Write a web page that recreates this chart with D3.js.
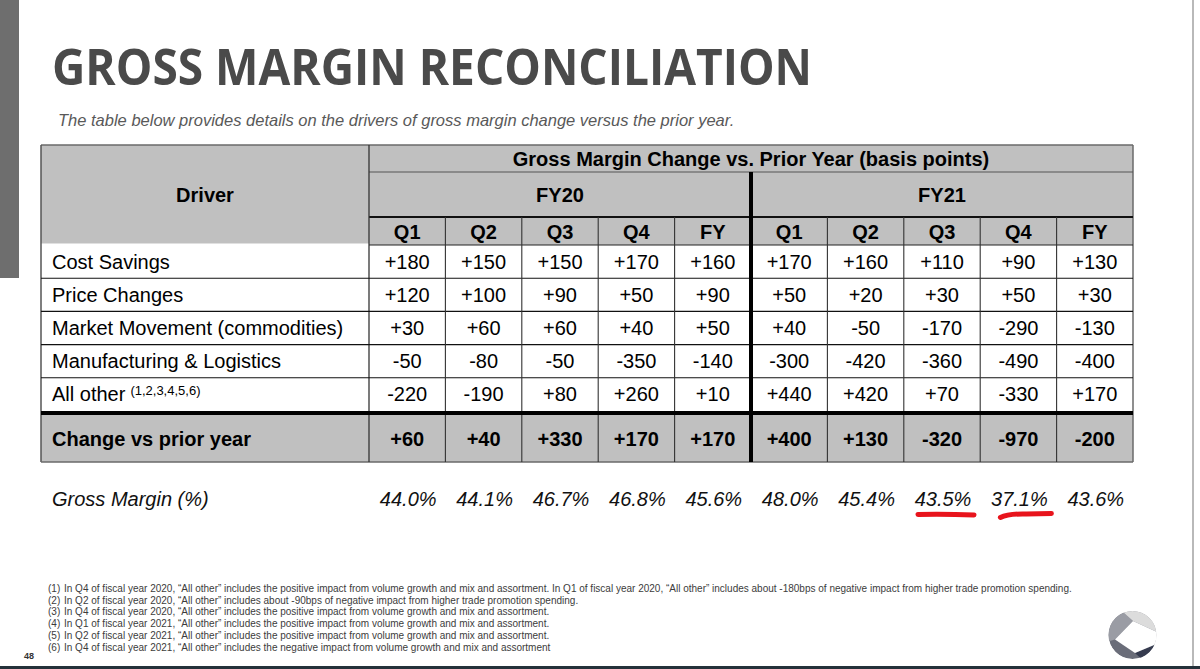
<!DOCTYPE html>
<html><head><meta charset="utf-8">
<script src="https://cdn.jsdelivr.net/npm/d3@7"></script>
<style>body{margin:0;background:#fff;} svg{display:block;}</style>
</head><body>
<svg id="c" width="1200" height="669"></svg>
<script>
// ---------- data ----------
const title = "GROSS MARGIN RECONCILIATION";
const subtitle = "The table below provides details on the drivers of gross margin change versus the prior year.";
const headerTop = "Gross Margin Change vs. Prior Year (basis points)";
const driverHeader = "Driver";
const years = ["FY20", "FY21"];
const periods = ["Q1", "Q2", "Q3", "Q4", "FY"];
const drivers = ["Cost Savings", "Price Changes", "Market Movement (commodities)", "Manufacturing & Logistics", "All other"];
const allOtherNote = "(1,2,3,4,5,6)";
const costSavings      = [180, 150, 150, 170, 160, 170, 160, 110, 90, 130];
const priceChanges     = [120, 100, 90, 50, 90, 50, 20, 30, 50, 30];
const marketMovement   = [30, 60, 60, 40, 50, 40, -50, -170, -290, -130];
const manufacturing    = [-50, -80, -50, -350, -140, -300, -420, -360, -490, -400];
const allOther         = [-220, -190, 80, 260, 10, 440, 420, 70, -330, 170];
const totalLabel = "Change vs prior year";
const changeVsPriorYear = [60, 40, 330, 170, 170, 400, 130, -320, -970, -200];
const gmLabel = "Gross Margin (%)";
const grossMargin = [44.0, 44.1, 46.7, 46.8, 45.6, 48.0, 45.4, 43.5, 37.1, 43.6];
const highlighted = ["FY21 Q3", "FY21 Q4"];
const footnotes = [
  "In Q4 of fiscal year 2020, \u201CAll other\u201D includes the positive impact from volume growth and mix and assortment. In Q1 of fiscal year 2020, \u201CAll other\u201D includes about -180bps of negative impact from higher trade promotion spending.",
  "In Q2 of fiscal year 2020, \u201CAll other\u201D includes about -90bps of negative impact from higher trade promotion spending.",
  "In Q4 of fiscal year 2020, \u201CAll other\u201D includes the positive impact from volume growth and mix and assortment.",
  "In Q1 of fiscal year 2021, \u201CAll other\u201D includes the positive impact from volume growth and mix and assortment.",
  "In Q2 of fiscal year 2021, \u201CAll other\u201D includes the positive impact from volume growth and mix and assortment.",
  "In Q4 of fiscal year 2021, \u201CAll other\u201D includes the negative impact from volume growth and mix and assortment"
];
const pageNumber = "48";

const rowValues = [costSavings, priceChanges, marketMovement, manufacturing, allOther];

// ---------- setup ----------
const svg = d3.select("#c");
const F = "'Liberation Sans', Arial, sans-serif";
const fmt = v => (v > 0 ? "+" : "") + v;
const fmtPct = d3.format(".1f");

const cols = years.flatMap(y => periods.map(p => y + " " + p));
const L = 41, R = 1133, D = 369;
const x = d3.scaleBand().domain(cols).range([D, R]);
const xYear = d3.scaleBand().domain(years).range([D, R]);
const yTop = 145, yH1 = 172, yH2 = 217, yH3 = 245;
const y = d3.scaleBand().domain(drivers).range([yH3, 411]);
const yThick = 413, yTotTop = 415, yTotBot = 462;

// slide frame
svg.append("rect").attr("x", 0).attr("y", 0).attr("width", 19).attr("height", 278).attr("fill", "#6e6e6e");
svg.append("line").attr("x1", 1193).attr("x2", 1193).attr("y1", 0).attr("y2", 669).attr("stroke", "#8a8a8a").attr("stroke-width", 1.2);
svg.append("line").attr("x1", 0).attr("x2", 1200).attr("y1", 667.5).attr("y2", 667.5).attr("stroke", "#24313a").attr("stroke-width", 3);

// title
svg.append("text").attr("x", 52).attr("y", 85).text(title)
  .attr("font-family", "'Open Sans', sans-serif").attr("font-weight", 700).attr("font-size", 51)
  .attr("fill", "#4a4a4a").attr("textLength", 760).attr("lengthAdjust", "spacingAndGlyphs");
svg.append("text").attr("x", 58).attr("y", 126).text(subtitle)
  .attr("font-family", F).attr("font-style", "italic").attr("font-size", 16.5).attr("fill", "#595959");

// ---------- table backgrounds ----------
svg.append("rect").attr("x", L).attr("y", yTop).attr("width", R - L).attr("height", yH3 - yTop).attr("fill", "#c0c0c0");
svg.append("rect").attr("x", L).attr("y", yH3 - 1.5).attr("width", D - L).attr("height", 2).attr("fill", "#fff");
svg.append("rect").attr("x", L).attr("y", yTotTop).attr("width", R - L).attr("height", yTotBot - yTotTop).attr("fill", "#c0c0c0");

const g = svg.append("g").attr("font-family", F).attr("fill", "#000");

// header text
g.append("text").attr("x", (D + R) / 2).attr("y", (yTop + yH1) / 2 + 7).attr("text-anchor", "middle")
  .attr("font-weight", 700).attr("font-size", 20).text(headerTop);
g.append("text").attr("x", (L + D) / 2).attr("y", 202).attr("text-anchor", "middle")
  .attr("font-weight", 700).attr("font-size", 20).text(driverHeader);
g.selectAll(".yr").data(years).join("text")
  .attr("x", d => xYear(d) + xYear.bandwidth() / 2).attr("y", (yH1 + yH2) / 2 + 7)
  .attr("text-anchor", "middle").attr("font-weight", 700).attr("font-size", 20).text(d => d);
g.selectAll(".pd").data(cols).join("text")
  .attr("x", d => x(d) + x.bandwidth() / 2).attr("y", (yH2 + yH3) / 2 + 8)
  .attr("text-anchor", "middle").attr("font-weight", 700).attr("font-size", 20).text(d => d.split(" ")[1]);

// driver labels
const lab = g.selectAll(".dl").data(drivers).join("text")
  .attr("x", 52).attr("y", d => y(d) + y.bandwidth() / 2 + 7).attr("font-size", 20).text(d => d);
lab.filter(d => d === "All other").append("tspan").attr("dx", 5).attr("dy", -6).attr("font-size", 13).text(allOtherNote);

// values
rowValues.forEach((vals, i) => {
  g.append("g").selectAll("text").data(vals).join("text")
    .attr("x", (d, j) => x(cols[j]) + x.bandwidth() / 2)
    .attr("y", y(drivers[i]) + y.bandwidth() / 2 + 7)
    .attr("text-anchor", "middle").attr("font-size", 20).text(d => fmt(d));
});

// total row
g.append("text").attr("x", 52).attr("y", (yTotTop + yTotBot) / 2 + 7).attr("font-weight", 700).attr("font-size", 20).text(totalLabel);
g.append("g").selectAll("text").data(changeVsPriorYear).join("text")
  .attr("x", (d, j) => x(cols[j]) + x.bandwidth() / 2).attr("y", (yTotTop + yTotBot) / 2 + 7)
  .attr("text-anchor", "middle").attr("font-weight", 700).attr("font-size", 20).text(d => fmt(d));

// gross margin row
const yGM = 506;
g.append("text").attr("x", 52).attr("y", yGM).attr("font-style", "italic").attr("font-size", 20).attr("fill", "#111").text(gmLabel);
g.append("g").selectAll("text").data(grossMargin).join("text")
  .attr("x", (d, j) => x(cols[j]) + x.bandwidth() / 2 + 1).attr("y", yGM)
  .attr("text-anchor", "middle").attr("font-style", "italic").attr("font-size", 20).attr("fill", "#111")
  .text(d => fmtPct(d) + "%");

// ---------- grid lines ----------
const lines = svg.append("g").attr("fill", "none");
function ln(x1, y1, x2, y2, c, w) {
  lines.append("line").attr("x1", x1).attr("y1", y1).attr("x2", x2).attr("y2", y2).attr("stroke", c).attr("stroke-width", w);
}
// outer
ln(L, yTop, R, yTop, "#6a6a6a", 1.5);
ln(L, yTop, L, yTotBot, "#555", 1.5);
ln(R, yTop, R, yTotBot, "#6a6a6a", 1.5);
ln(L, yTotBot, R, yTotBot, "#6a6a6a", 1.5);
// header
ln(D, yH1, R, yH1, "#555", 1.2);
ln(D, yH2, R, yH2, "#111", 2);
ln(D, yH3, R, yH3, "#222", 1.2);
ln(D, yTop, D, yTotBot, "#333", 1.3);
// row separators
drivers.slice(1).forEach(d => ln(L, y(d), R, y(d), "#111", 1.1));
// column separators
cols.forEach((c, j) => {
  if (j === 0 || j === 5) return;
  ln(x(c), yH2, x(c), yTotBot, "#333", 1.1);
});
// thick lines
ln(x(cols[5]), yH1, x(cols[5]), yTotBot, "#000", 4);
ln(L, yThick, R, yThick, "#000", 4);

// highlight underlines
const hl = svg.append("g").attr("fill", "none").attr("stroke", "#e8141c").attr("stroke-width", 5).attr("stroke-linecap", "round");
const c1 = x(highlighted[0]) + x.bandwidth() / 2;
hl.append("path").attr("d", `M${c1 - 24},514.5 Q${c1 + 4},514 ${c1 + 32},515`);
const c2 = x(highlighted[1]) + x.bandwidth() / 2;
hl.append("path").attr("d", `M${c2 - 18},517.5 Q${c2 - 10},513.5 ${c2 + 8},514 L${c2 + 33},513.5`);

// ---------- footnotes ----------
const fn = svg.append("g").attr("font-family", F).attr("font-size", 10).attr("fill", "#3c3c3c");
fn.selectAll(".n").data(footnotes).join("text")
  .attr("x", 48).attr("y", (d, i) => 592 + i * 11.7).text((d, i) => "(" + (i + 1) + ")");
fn.selectAll(".t").data(footnotes).join("text")
  .attr("x", 64).attr("y", (d, i) => 592 + i * 11.7).text(d => d);
svg.append("text").attr("x", 24).attr("y", 659).attr("font-family", F).attr("font-size", 9).attr("font-weight", 700)
  .attr("fill", "#333").text(pageNumber);

// ---------- logo ----------
const cx = 1132.5, cy = 635, r = 24;
const defs = svg.append("defs");
defs.append("clipPath").attr("id", "lc").append("circle").attr("cx", cx).attr("cy", cy).attr("r", r);
const logo = svg.append("g").attr("clip-path", "url(#lc)");
const T = [1133, 621], A = [1115, 639.5], B = [1135, 653], U = [1158, 632.5], Lr = [1158, 643.3];
const poly = (pts, c) => logo.append("polygon").attr("points", pts.map(p => p.join(",")).join(" ")).attr("fill", c);
logo.append("circle").attr("cx", cx).attr("cy", cy).attr("r", r).attr("fill", "#6a6d79");
poly([A, T, [1106, 597], [1095, 597], [1095, 645.5]], "#9a9ca4");
poly([T, [1106, 597], [1165, 597], [1165, 635.7]], "#dcdcdc");
poly([B, [1159, 675], [1165, 675], [1165, 640.6]], "#353b4f");
poly([T, A, B, Lr, U], "#ffffff");
</script>
</body></html>
